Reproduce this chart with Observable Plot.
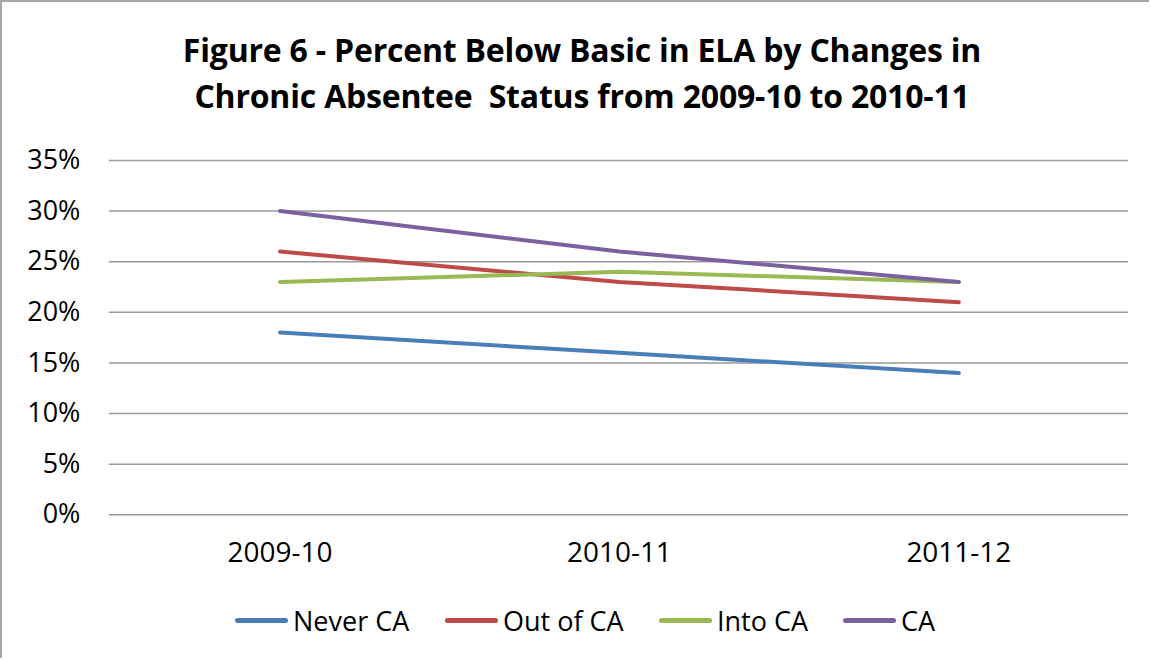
<!DOCTYPE html>
<html>
<head>
<meta charset="utf-8">
<script src="https://cdn.jsdelivr.net/npm/d3@7"></script>
<script src="https://cdn.jsdelivr.net/npm/@observablehq/plot@0.6"></script>
<style>
  html, body { margin: 0; padding: 0; background: #fff; }
  #frame { position: relative; width: 1147px; height: 656px; border: 2px solid #a6a6a6; border-right: none; border-bottom: none; overflow: hidden; font-family: "Open Sans", sans-serif; }
  #title { position: absolute; left: 0; top: 25px; width: 1160px; text-align: center; font-weight: bold; font-size: 32px; line-height: 46px; color: #000; letter-spacing: -0.2px; }
  #chart { position: absolute; left: -2px; top: 138px; }
  #legend { position: absolute; top: 600px; left: 0; width: 1151px; height: 36px; }
  .item { position: absolute; top: 0; display: flex; align-items: center; height: 36px; font-size: 27px; color: #000; }
  .sw { width: 53px; height: 5px; border-radius: 2.5px; margin-right: 5px; }
</style>
</head>
<body>
<div id="frame">
  <div id="title">Figure 6 - Percent Below Basic in ELA by Changes in<br>Chronic Absentee&nbsp; Status from 2009-10 to 2010-11</div>
  <div id="chart"></div>
  <div id="legend"></div>
</div>
<script>
const years = ["2009-10", "2010-11", "2011-12"];
const seriesNames = ["Never CA", "Out of CA", "Into CA", "CA"];
const neverCA = [0.18, 0.16, 0.14];
const outOfCA = [0.26, 0.23, 0.21];
const intoCA = [0.23, 0.24, 0.23];
const ca = [0.30, 0.26, 0.23];
const yTicks = [0, 0.05, 0.10, 0.15, 0.20, 0.25, 0.30, 0.35];
const colors = ["#4a7ebb", "#be4b48", "#98b954", "#7d60a0"];

const seriesValues = [neverCA, outOfCA, intoCA, ca];
const data = [];
seriesNames.forEach((s, i) => years.forEach((y, j) => data.push({series: s, year: y, value: seriesValues[i][j]})));

const plot = Plot.plot({
  width: 1151,
  height: 442,
  marginTop: 20,
  marginBottom: 67,
  marginLeft: 109,
  marginRight: 21,
  style: { fontFamily: "Open Sans, sans-serif", fontSize: "27px", color: "#000", background: "transparent" },
  x: { type: "point", domain: years, padding: 0.5, label: null },
  y: { domain: [0, 0.35], label: null },
  color: { domain: seriesNames, range: colors },
  marks: [
    Plot.gridY(yTicks, { stroke: "#9a9a9a", strokeOpacity: 1, strokeWidth: 1.5 }),
    Plot.axisY(yTicks, { tickSize: 0, tickPadding: 29, tickFormat: d3.format(".0%"), label: null, fill: "#000", fontSize: 27 }),
    Plot.axisX(years, { tickSize: 0, tickPadding: 27, label: null, fill: "#000", fontSize: 28 }),
    Plot.line(data, { x: "year", y: "value", z: "series", stroke: "series", strokeWidth: 4, strokeLinecap: "round" })
  ]
});
document.getElementById("chart").appendChild(plot);

const legendPos = [233, 443, 657, 841];
const legend = document.getElementById("legend");
seriesNames.forEach((s, i) => {
  const it = document.createElement("div");
  it.className = "item";
  it.style.left = legendPos[i] + "px";
  const sw = document.createElement("div");
  sw.className = "sw";
  sw.style.background = colors[i];
  const t = document.createElement("span");
  t.textContent = s;
  it.appendChild(sw); it.appendChild(t);
  legend.appendChild(it);
});
</script>
</body>
</html>
